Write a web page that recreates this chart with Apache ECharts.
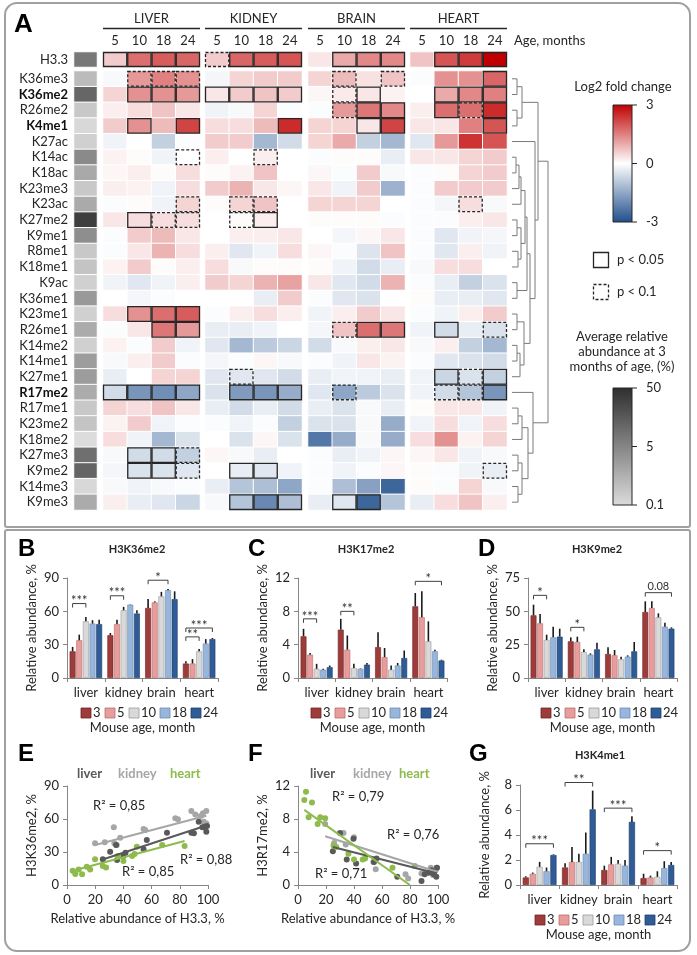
<!DOCTYPE html>
<html>
<head>
<meta charset="utf-8">
<script src="https://cdn.jsdelivr.net/npm/echarts@6.0.0/dist/echarts.min.js"></script>
<style>
  html, body { margin: 0; padding: 0; background: #fff; }
  #chart { width: 697px; height: 955px; }
</style>
</head>
<body>
<div id="chart"></div>
<script>
var FONT = 'Lato';

// ---- panel A data ----
var tissues = ['LIVER', 'KIDNEY', 'BRAIN', 'HEART'];
var ages = ['5', '10', '18', '24'];
var marks = ['K36me3','K36me2','R26me2','K4me1','K27ac','K14ac','K18ac','K23me3','K23ac','K27me2',
  'K9me1','R8me1','K18me1','K9ac','K36me1','K23me1','R26me1','K14me2','K14me1','K27me1',
  'R17me2','R17me1','K23me2','K18me2','K27me3','K9me2','K14me3','K9me3'];
var boldMarks = ['K36me2', 'K4me1', 'R17me2'];

// log2 fold change vs 3 months, columns: liver 5..24 | kidney | brain | heart
var h33Fold = [0.6,1.7,1.9,1.8, 0.6,1.8,1.9,2.0, 0.3,1.0,1.4,1.4, 0.7,2.0,2.3,3.0];
var h33Sig  = [1,1,1,1, 2,1,1,1, 0,1,1,1, 0,1,1,1];
var h33Abundance = 7;

var foldChange = [
  [-0.1,1.2,1.5,1.3, -0.15,0.5,0.6,0.6, 0.5,0.8,0.35,0.7, -0.05,1.3,1.3,1.8],
  [0.5,1.3,1.3,1.2, 0.3,0.6,0.7,0.6, 0.1,0.25,0.3,0.15, 0.0,1.0,1.4,1.5],
  [0.2,0.4,0.7,0.3, -0.2,-0.1,0.5,-0.05, -0.05,1.2,1.6,1.4, 0.2,1.7,1.7,2.5],
  [0.6,1.3,0.8,2.2, 0.4,0.4,0.8,2.5, 0.5,0.5,0.3,2.2, 0.3,0.3,1.5,2.0],
  [-0.2,0.0,-0.8,-0.05, 0.6,0.6,-1.2,-0.6, 0.5,1.0,-0.8,-1.2, -0.4,1.2,2.4,2.0],
  [0.15,0.05,-0.2,0.0, 0.2,0.0,0.2,0.0, -0.05,0.05,0.05,-0.3, 0.3,0.3,0.5,0.6],
  [0.1,0.2,0.05,0.4, 0.05,0.15,0.7,0.0, 0.1,-0.05,0.6,-0.1, -0.05,0.05,0.5,0.6],
  [0.2,0.15,-0.2,0.4, 0.6,0.9,0.3,0.1, 0.3,-0.2,0.6,-1.3, -0.05,0.6,0.6,0.6],
  [-0.05,0.05,-0.2,0.5, 0.05,0.5,0.7,0.0, 0.5,0.5,0.5,0.0, -0.05,-0.15,0.4,-0.1],
  [0.3,0.4,0.4,0.4, 0.0,0.05,0.2,0.0, 0.05,0.05,0.05,-0.05, -0.05,-0.05,0.2,0.3],
  [-0.05,0.6,0.8,0.3, 0.0,0.2,0.2,0.3, 0.0,-0.15,0.1,0.3, -0.05,-0.4,-0.2,-0.15],
  [-0.05,0.3,0.9,0.4, 0.2,-0.4,-0.2,0.4, 0.1,-0.05,-0.45,0.7, -0.05,-0.4,0.2,-0.2],
  [0.15,0.6,0.05,0.2, 0.4,-0.1,0.05,0.05, 0.05,-0.2,-0.6,-0.3, -0.1,0.4,0.4,0.0],
  [-0.2,-0.4,-0.2,0.2, 0.6,0.5,0.9,1.1, 0.3,-0.4,-0.6,0.9, -0.05,-0.3,-0.8,-0.5],
  [0.0,-0.15,-0.05,0.0, 0.0,0.0,-0.3,0.6, -0.05,-0.4,-0.5,0.0, 0.05,-0.3,-0.3,-0.4],
  [0.4,1.3,1.7,1.9, -0.05,0.2,0.4,0.2, -0.2,0.2,0.6,0.3, -0.05,-0.2,0.2,0.6],
  [-0.05,0.3,1.6,1.2, -0.3,-0.3,-0.2,0.0, -0.15,0.7,1.7,1.6, -0.2,-0.6,-0.3,-0.5],
  [0.15,-0.05,0.6,-0.2, -0.4,-1.2,-0.9,-0.7, -0.6,-0.1,0.2,0.3, -0.1,0.2,-0.8,-1.2],
  [-0.1,0.2,0.6,-0.05, -0.15,-0.05,0.1,-0.1, -0.05,-0.2,0.3,0.15, -0.05,-0.4,-0.5,-0.6],
  [-0.3,0.0,0.5,0.5, -0.4,-0.4,-0.4,-0.6, -0.3,-0.2,-0.2,-0.3, -0.2,-0.7,-0.5,-0.8],
  [-0.6,-1.8,-1.9,-1.5, -0.5,-1.7,-1.8,-1.4, -0.4,-1.5,-0.9,-0.5, -0.2,-0.6,-1.0,-1.8],
  [0.5,0.4,0.7,0.3, -0.3,-0.6,-0.3,-0.6, -0.3,-0.5,-0.1,-0.3, 0.05,0.3,0.3,-0.2],
  [0.15,0.6,-0.2,-0.05, -0.05,-0.2,-0.05,-0.8, -0.5,-0.5,-0.1,-1.4, -0.2,0.4,-0.2,0.4],
  [0.4,-0.2,-1.2,-0.5, 0.0,-0.5,0.1,-0.5, -2.3,-1.4,-0.1,-1.4, 0.4,1.3,0.15,0.5],
  [-0.1,-0.6,-0.6,-0.8, 0.1,-0.1,-0.3,0.0, -0.05,-0.3,-0.2,0.1, 0.1,0.3,-0.2,-0.1],
  [-0.15,-0.5,-0.5,-0.4, 0.0,-0.3,-0.4,-0.2, -0.05,-0.2,-0.05,0.1, 0.05,-0.05,-0.2,-0.3],
  [-0.1,-0.2,-0.1,-0.05, -0.3,-1.0,-1.1,-1.5, -0.05,-1.1,-1.6,-2.6, 0.05,-0.05,0.5,-0.1],
  [0.2,-0.3,-0.4,-0.7, -0.1,-1.0,-2.0,-1.1, -0.3,-0.4,-2.6,-1.0, -0.3,0.4,0.7,0.2]
];
// 1 = p < 0.05, 2 = p < 0.1
var foldSig = [
  [0,2,2,2, 0,0,0,0, 0,2,0,2, 0,0,0,1],
  [0,1,1,1, 1,1,1,1, 0,2,1,0, 0,1,1,1],
  [0,0,0,0, 0,0,0,0, 0,2,1,1, 0,1,2,1],
  [0,1,0,1, 0,0,0,1, 0,0,1,1, 0,0,0,1],
  [0,0,0,0, 0,0,0,0, 0,0,0,0, 0,0,0,0],
  [0,0,0,2, 0,0,2,0, 0,0,0,0, 0,0,0,0],
  [0,0,0,0, 0,0,0,0, 0,0,0,0, 0,0,0,0],
  [0,0,0,0, 0,0,0,0, 0,0,0,0, 0,0,0,0],
  [0,0,0,2, 0,2,2,0, 0,0,0,0, 0,0,2,0],
  [0,1,2,2, 0,2,1,0, 0,0,0,0, 0,0,0,0],
  [0,0,0,0, 0,0,0,0, 0,0,0,0, 0,0,0,0],
  [0,0,0,0, 0,0,0,0, 0,0,0,0, 0,0,0,0],
  [0,0,0,0, 0,0,0,0, 0,0,0,0, 0,0,0,0],
  [0,0,0,0, 0,0,0,0, 0,0,0,0, 0,0,0,0],
  [0,0,0,0, 0,0,0,0, 0,0,0,0, 0,0,0,0],
  [0,1,1,1, 0,0,0,0, 0,0,0,0, 0,0,0,0],
  [0,0,1,1, 0,0,0,0, 0,2,1,1, 0,1,0,2],
  [0,0,0,0, 0,0,0,0, 0,0,0,0, 0,0,0,0],
  [0,0,0,0, 0,0,0,0, 0,0,0,0, 0,0,0,0],
  [0,0,0,0, 0,2,0,0, 0,0,0,0, 0,1,2,1],
  [1,1,1,1, 0,1,1,1, 0,2,0,0, 0,2,2,1],
  [0,0,0,0, 0,0,0,0, 0,0,0,0, 0,0,0,0],
  [0,0,0,0, 0,0,0,0, 0,0,0,0, 0,0,0,0],
  [0,0,0,0, 0,0,0,0, 0,0,0,0, 0,0,0,0],
  [0,1,1,2, 0,0,0,0, 0,0,0,0, 0,0,0,0],
  [0,1,1,2, 0,1,1,0, 0,0,0,0, 0,0,0,2],
  [0,0,0,0, 0,0,0,0, 0,0,0,0, 0,0,0,0],
  [0,0,0,0, 0,1,1,1, 0,1,1,0, 0,0,0,0]
];
// average relative abundance at 3 months, %
var abundance3m = [0.45,11.5,0.25,0.12,0.17,4,1.0,0.25,0.95,33,3.3,0.25,0.3,0.17,2,0.17,0.9,0.17,1.7,1.8,
  0.85,0.25,0.3,0.1,9,12,0.12,0.9];

// dendrogram: [left, right, merge distance]; leaves are row indexes
var dendroTree = [
  [[[0,1,5],[2,3,5],10], [4, [[[[[[5,6,4],7,7],8,9], [[9,10,5],[11,12,6],9], 13], [13,14,5], 15],
    [[15,16,5], [[17,18,5],19,8], 12], 18], 23], 26],
  [20, [[[21,22,6],23,10], [[24,25,6],[26,27,6],10], 16], 21],
  36
];

// ---- bar panels B, C, D, G (rows = age group, cols = tissue) ----
var barTissues = ['liver', 'kidney', 'brain', 'heart'];
var barAges = ['3', '5', '10', '18', '24'];
var ageColors = ['#9e3b3b', '#e89c9b', '#d9d9d9', '#98b6dc', '#2f5b96'];
var ageBorders = ['#6e2525', '#b86f6f', '#9a9a9a', '#6a8ab4', '#1f3f6a'];

var k36me2Mean = [[24,38.5,63,13],[34,48.5,68,13],[51,61,73.5,24],[49,66,79,31],[48.5,58,71,35]];
var k36me2Err  = [[4,2,8,2],[5,4,1,4],[4,3,4,2],[3,0.3,1,4],[4,3,7,1]];
var k36me2Sig  = [[0,0,2,67,'***'],[1,0,2,74,'***'],[2,0,3,88,'*'],[3,0,2,37,'**'],[3,0,4,45,'***']];

var r17me2Mean = [[5.0,5.8,3.7,8.6],[2.8,3.4,2.5,7.3],[1.1,1.2,1.0,4.4],[1.0,1.1,1.5,3.2],[1.3,1.6,2.4,2.1]];
var r17me2Err  = [[0.9,1.3,1.8,1.6],[0.2,1.7,1.1,3.1],[0.6,0.5,0.5,2.4],[0.1,0.05,0.3,0.2],[0.2,0.2,0.9,0.1]];
var r17me2Sig  = [[0,0,2,7.1,'***'],[1,0,2,8.0,'**'],[3,0,4,11.6,'*']];

var k9me2Mean = [[47,27.5,18,49.5],[41,27,17,52.5],[28.5,19.5,14,45.5],[30.5,17.5,16,38.5],[31,21.5,20,37]];
var k9me2Err  = [[8,3,5,8],[7,4,4,5],[4,2,2,3],[8,1,1,3],[6,5,7,1]];
var k9me2Sig  = [[0,0,2,62,'*'],[1,0,2,38,'*'],[3,0,4,64,'0.08']];

var k4me1Mean = [[0.6,1.4,1.2,0.55],[0.9,1.85,1.65,0.6],[1.45,1.85,1.7,0.65],[1.1,2.5,1.55,1.35],[2.4,6.05,5.05,1.6]];
var k4me1Err  = [[0.1,0.35,0.35,0.35],[0.1,1.2,0.6,0.15],[0.4,0.65,0.3,0.45],[0.3,1.7,0.45,0.55],[0.05,1.5,0.45,0.25]];
var k4me1Sig  = [[0,0,4,3.3,'***'],[1,0,4,8.2,'**'],[2,0,4,6.15,'***'],[3,0,4,2.75,'*']];

// ---- scatter panels E, F (x = H3.3 %, y = mark %) ----
var scatterNames = ['liver', 'kidney', 'heart'];
var scatterColors = ['#595959', '#a6a6a6', '#8dbb4c'];
var eLiver = [[25.4,23.3],[30.6,30.3],[34.8,36.4],[35.5,22.7],[40,26.4],[41.5,29.4],[54.3,32.4],[56.6,40.9],
  [70.9,47.6],[88.2,47.6],[90,47],[93.4,57.6],[96,52.4],[97.6,53],[98.8,48.5],[99.3,53.6]];
var eKidney = [[19.9,37.9],[26.8,38.8],[33.2,52.4],[33.6,37.9],[35.3,36.4],[37.7,43],[54.3,50.9],[55.5,50],
  [76.8,60.6],[78.7,59.7],[88.2,67.3],[91,64.2],[94.8,62.7],[96.4,65.2],[98.8,67.3],[98.8,56],[97,57.6]];
var eHeart = [[4,13],[5.9,10],[8.3,14.2],[10.7,9.7],[14,16.7],[16.4,14.2],[19.9,23.3],[25.4,17.3],[27.7,15.8],
  [36,26.4],[40,21.8],[46.2,26.4],[47.9,28.2],[49.5,34.8],[67.5,36.4],[83.4,35.5]];
var eFits = [[[24.2,22.7],[100,54.5]], [[20,36.4],[98.8,63]], [[4,13],[83.4,40]]];
var eR2 = ['0,88', '0,85', '0,85'];

var fLiver = [[24.9,4.1],[30,6.3],[34.8,3.1],[39.6,5.6],[41.5,2.6],[54.3,2.8],[56.1,3.2],[70.9,1.0],[88.2,0.5],
  [90.5,1.3],[93.4,1.5],[95.3,1.8],[97,1.3],[98.8,1.0],[99.3,2.1]];
var fKidney = [[19.4,7.4],[25.8,5.1],[32.5,6.3],[34.1,4.9],[40,5.8],[53.8,2.8],[55.5,1.9],[76.8,1.3],[78.7,0.8],
  [88.2,1.4],[91,1.5],[94.8,2.1],[96.4,1.2],[98.3,1.8],[98.8,2.1]];
var fHeart = [[4.5,10.3],[5.7,11.3],[7.6,8.2],[10,10],[14,7.4],[15.9,8.2],[19.4,8.1],[25.4,4.8],[27.3,4.6],
  [36,3.8],[40,3.1],[46.2,3.1],[47.9,3.2],[67.5,2.1],[83.4,2.3]];
var fFits = [[[24.9,4.6],[99.3,1.4]], [[19.4,5.9],[99.3,1.6]], [[4.5,9.1],[79.9,0]]];
var fR2 = ['0,71', '0,76', '0,79'];

// ---------------------------------------------------------------
var option = {
  animation: false,
  backgroundColor: '#fff',
  textStyle: { fontFamily: FONT },
  grid: [], xAxis: [], yAxis: [], series: [], graphic: []
};
var foldSeries = [], graySeries = [];

function addGrid(g, xa, ya) {
  g.outerBoundsMode = 'none';
  option.grid.push(g);
  var i = option.grid.length - 1;
  xa.gridIndex = i; ya.gridIndex = i;
  option.xAxis.push(xa); option.yAxis.push(ya);
  return i;
}
function axisBase(extra) {
  var a = {
    axisLine: { show: true, lineStyle: { color: '#868686' } },
    axisTick: { show: true, length: 4, lineStyle: { color: '#868686' } },
    axisLabel: { fontFamily: FONT, fontSize: 13, color: '#262626', interval: 0 },
    splitLine: { show: false },
    nameMoveOverlap: false,
    nameTextStyle: { fontFamily: FONT, fontSize: 13, color: '#262626' }
  };
  for (var k in extra) a[k] = extra[k];
  return a;
}
function txt(x, y, s, o) {
  o = o || {};
  option.graphic.push({
    type: 'text', x: x, y: y, silent: true, rotation: o.rot || 0,
    style: { text: s, fill: o.color || '#262626', align: o.align || 'left', verticalAlign: 'middle',
      font: (o.weight || 'normal') + ' ' + (o.size || 13) + 'px ' + (o.family || FONT) }
  });
}
function gline(x1, y1, x2, y2, o) {
  o = o || {};
  option.graphic.push({ type: 'line', silent: true, shape: { x1: x1, y1: y1, x2: x2, y2: y2 },
    style: { stroke: o.color || '#262626', lineWidth: o.width || 1, lineDash: o.dash || null } });
}
function grayPos(v) {
  return v <= 5 ? 0.5 * Math.log(v / 0.1) / Math.log(50) : 0.5 + 0.5 * Math.log(v / 5) / Math.log(10);
}
function sigRenderer(params, api) {
  var p = api.coord([api.value(0), api.value(1)]);
  var s = api.size([1, 1]);
  var dashed = api.value(2) === 2;
  return {
    type: 'rect',
    shape: { x: p[0] - s[0] / 2 + 0.5, y: p[1] - s[1] / 2 + 0.5, width: s[0] - 1, height: s[1] - 1 },
    style: { fill: null, stroke: '#262626', lineWidth: 1.3, lineDash: dashed ? [3, 2] : null }
  };
}

// ---- panel A layout ----
var HM_LEFT = [103, 205, 308, 410], HM_W = 97;
var H33_TOP = 52, H33_H = 15, MAIN_TOP = 71, MAIN_H = 439;
var rowLabel = {
  fontFamily: FONT, fontSize: 13, color: '#262626', margin: 6, interval: 0,
  formatter: function (v) { return boldMarks.indexOf(v) >= 0 ? '{b|' + v + '}' : v; },
  rich: { b: { fontFamily: FONT, fontSize: 13, fontWeight: 'bold', color: '#111' } }
};

// gray abundance column
var gi = addGrid({ left: 74, top: H33_TOP, width: 23, height: H33_H },
  { type: 'category', data: ['a'], show: false },
  { type: 'category', data: ['H3.3'], axisLine: { show: false }, axisTick: { show: false }, axisLabel: rowLabel });
option.series.push({ type: 'heatmap', xAxisIndex: gi, yAxisIndex: gi, data: [[0, 0, grayPos(h33Abundance)]],
  itemStyle: { borderColor: '#fff', borderWidth: 1 }, emphasis: { disabled: true } });
graySeries.push(option.series.length - 1);

gi = addGrid({ left: 74, top: MAIN_TOP, width: 23, height: MAIN_H },
  { type: 'category', data: ['a'], show: false },
  { type: 'category', data: marks, inverse: true, axisLine: { show: false }, axisTick: { show: false }, axisLabel: rowLabel });
option.series.push({ type: 'heatmap', xAxisIndex: gi, yAxisIndex: gi,
  data: abundance3m.map(function (v, r) { return [0, r, grayPos(v)]; }),
  itemStyle: { borderColor: '#fff', borderWidth: 1 }, emphasis: { disabled: true } });
graySeries.push(option.series.length - 1);

tissues.forEach(function (t, ti) {
  // H3.3 row with age labels
  var g1 = addGrid({ left: HM_LEFT[ti], top: H33_TOP, width: HM_W, height: H33_H },
    { type: 'category', data: ages, position: 'top', axisLine: { show: false }, axisTick: { show: false },
      axisLabel: { fontFamily: FONT, fontSize: 13, color: '#262626', margin: 5, interval: 0 } },
    { type: 'category', data: ['H3.3'], show: false });
  option.series.push({ type: 'heatmap', xAxisIndex: g1, yAxisIndex: g1,
    data: ages.map(function (a, c) { return [c, 0, h33Fold[ti * 4 + c]]; }),
    itemStyle: { borderColor: '#fff', borderWidth: 1 }, emphasis: { disabled: true } });
  foldSeries.push(option.series.length - 1);
  var s1 = [];
  ages.forEach(function (a, c) { if (h33Sig[ti * 4 + c]) s1.push([c, 0, h33Sig[ti * 4 + c]]); });
  s1.sort(function (a, b) { return b[2] - a[2]; });
  option.series.push({ type: 'custom', xAxisIndex: g1, yAxisIndex: g1, data: s1, renderItem: sigRenderer, silent: true, z: 5 });

  // main block
  var g2 = addGrid({ left: HM_LEFT[ti], top: MAIN_TOP, width: HM_W, height: MAIN_H },
    { type: 'category', data: ages, show: false },
    { type: 'category', data: marks, inverse: true, show: false });
  var d = [], s2 = [];
  foldChange.forEach(function (row, r) {
    for (var c = 0; c < 4; c++) {
      d.push([c, r, row[ti * 4 + c]]);
      var sg = foldSig[r][ti * 4 + c];
      if (sg) s2.push([c, r, sg]);
    }
  });
  s2.sort(function (a, b) { return b[2] - a[2]; });
  option.series.push({ type: 'heatmap', xAxisIndex: g2, yAxisIndex: g2, data: d,
    itemStyle: { borderColor: '#fff', borderWidth: 1 }, emphasis: { disabled: true } });
  foldSeries.push(option.series.length - 1);
  option.series.push({ type: 'custom', xAxisIndex: g2, yAxisIndex: g2, data: s2, renderItem: sigRenderer, silent: true, z: 5 });

  // tissue header
  txt(HM_LEFT[ti] + HM_W / 2, 19, t, { align: 'center', size: 13 });
  gline(HM_LEFT[ti], 28.5, HM_LEFT[ti] + HM_W, 28.5, { width: 1.3 });
});
txt(514, 41, 'Age, months', { size: 13 });

// dendrogram
var dendroSegs = [];
function layoutTree(node) {
  if (typeof node === 'number') return { y: node, h: 0 };
  var a = layoutTree(node[0]), b = layoutTree(node[1]), H = node[2];
  dendroSegs.push([[a.h, a.y], [H, a.y], [H, b.y], [b.h, b.y]]);
  return { y: (a.y + b.y) / 2, h: H };
}
layoutTree(dendroTree);
gi = addGrid({ left: 512, top: MAIN_TOP, width: 38, height: MAIN_H },
  { type: 'value', min: 0, max: 38, show: false },
  { type: 'value', min: -0.5, max: marks.length - 0.5, inverse: true, show: false });
option.series.push({ type: 'lines', coordinateSystem: 'cartesian2d', xAxisIndex: gi, yAxisIndex: gi, polyline: true,
  silent: true, lineStyle: { color: '#7a7a7a', width: 1, opacity: 1 },
  data: dendroSegs.map(function (c) { return { coords: c }; }) });

// legends of panel A
txt(623, 87, 'Log2 fold change', { align: 'center', size: 13 });
option.graphic.push({ type: 'rect', silent: true, shape: { x: 613, y: 105, width: 19, height: 117 },
  style: { stroke: '#262626', lineWidth: 1,
    fill: { type: 'linear', x: 0, y: 0, x2: 0, y2: 1, colorStops: [
      { offset: 0, color: '#c00000' }, { offset: 0.5, color: '#ffffff' }, { offset: 1, color: '#1f4e8c' }] } } });
[[105, '3'], [163.5, '0'], [222, '-3']].forEach(function (t) { gline(632, t[0], 637, t[0]); txt(646, t[0], t[1]); });

option.graphic.push({ type: 'rect', silent: true, shape: { x: 593.5, y: 252.5, width: 15, height: 15 },
  style: { fill: null, stroke: '#262626', lineWidth: 1.3 } });
txt(617, 260, 'p < 0.05');
option.graphic.push({ type: 'rect', silent: true, shape: { x: 593.5, y: 284.5, width: 15, height: 15 },
  style: { fill: null, stroke: '#262626', lineWidth: 1.3, lineDash: [3, 2] } });
txt(617, 292, 'p < 0.1');

txt(622, 337, 'Average relative', { align: 'center' });
txt(622, 352, 'abundance at 3', { align: 'center' });
txt(622, 367, 'months of age, (%)', { align: 'center' });
option.graphic.push({ type: 'rect', silent: true, shape: { x: 613, y: 388, width: 19, height: 117 },
  style: { stroke: '#262626', lineWidth: 1,
    fill: { type: 'linear', x: 0, y: 0, x2: 0, y2: 1, colorStops: [
      { offset: 0, color: '#2e2e2e' }, { offset: 1, color: '#dcdcdc' }] } } });
[[388, '50'], [446.5, '5'], [505, '0.1']].forEach(function (t) { gline(632, t[0], 637, t[0]); txt(646, t[0], t[1]); });

// ---- bar panels ----
var BAR_CAT_GAP = 0.14, BAR_GAP = 0.12;
function barOffset(k) {
  var n = barAges.length;
  var w = (1 - BAR_CAT_GAP) / (n + (n - 1) * BAR_GAP);
  return -(1 - BAR_CAT_GAP) / 2 + k * w * (1 + BAR_GAP) + w / 2;
}
function errRenderer(params, api) {
  var c = api.value(0), k = api.value(1), v = api.value(2), e = api.value(3);
  var p0 = api.coord([c, v]), p1 = api.coord([c, v + e]);
  var x = p0[0] + barOffset(k) * api.size([1, 0])[0];
  return { type: 'line', shape: { x1: x, y1: p0[1], x2: x, y2: p1[1] },
    style: { stroke: '#1a1a1a', lineWidth: 1.6 } };
}
function bracketRenderer(list) {
  return function (params, api) {
    var b = list[params.dataIndex];
    var band = api.size([1, 0])[0];
    var p = api.coord([b[0], b[3]]);
    var x1 = p[0] + barOffset(b[1]) * band, x2 = p[0] + barOffset(b[2]) * band, y = p[1];
    var isNum = b[4].indexOf('*') < 0;
    return { type: 'group', children: [
      { type: 'polyline', shape: { points: [[x1, y + 4], [x1, y], [x2, y], [x2, y + 4]] },
        style: { stroke: '#404040', lineWidth: 1, fill: null } },
      { type: 'text', style: { text: b[4], x: (x1 + x2) / 2, y: isNum ? y - 1 : y + 4, align: 'center',
        verticalAlign: 'bottom', font: (isNum ? 11 : 13) + 'px ' + FONT, fill: '#333' } }
    ] };
  };
}
function barLegend(x, y) {
  var cx = x;
  barAges.forEach(function (a, k) {
    option.graphic.push({ type: 'rect', silent: true, shape: { x: cx, y: y - 5, width: 10, height: 10 },
      style: { fill: ageColors[k], stroke: ageBorders[k], lineWidth: 0.8 } });
    txt(cx + 12, y, a, { size: 13 });
    cx += 12 + (a.length > 1 ? 14 : 7) + 5;
  });
}
function barPanel(g, yMax, yInt, means, errs, sigs, legendX, legendY) {
  var i = addGrid(g,
    axisBase({ type: 'category', data: barTissues, name: 'Mouse age, month', nameLocation: 'middle', nameGap: 43,
      axisTick: { show: true, length: 4, interval: 0, lineStyle: { color: '#868686' } } }),
    axisBase({ type: 'value', min: 0, max: yMax, interval: yInt, name: 'Relative abundance, %',
      nameLocation: 'middle', nameGap: 29 }));
  barAges.forEach(function (a, k) {
    option.series.push({ type: 'bar', name: a, xAxisIndex: i, yAxisIndex: i, data: means[k],
      barGap: (BAR_GAP * 100) + '%', barCategoryGap: (BAR_CAT_GAP * 100) + '%',
      itemStyle: { color: ageColors[k], borderColor: ageBorders[k], borderWidth: 0.6 }, emphasis: { disabled: true } });
  });
  var ed = [];
  means.forEach(function (row, k) { row.forEach(function (v, c) { ed.push([c, k, v, errs[k][c]]); }); });
  option.series.push({ type: 'custom', xAxisIndex: i, yAxisIndex: i, data: ed, renderItem: errRenderer, silent: true, z: 4 });
  option.series.push({ type: 'custom', xAxisIndex: i, yAxisIndex: i, silent: true, z: 4,
    data: sigs.map(function (b) { return [b[0], b[3]]; }), renderItem: bracketRenderer(sigs) });
  barLegend(legendX, legendY);
}
barPanel({ left: 67, top: 578, width: 151, height: 100 }, 90, 30, k36me2Mean, k36me2Err, k36me2Sig, 81, 713);
barPanel({ left: 298, top: 578, width: 149, height: 100 }, 12, 4, r17me2Mean, r17me2Err, r17me2Sig, 311, 713);
barPanel({ left: 528, top: 578, width: 149, height: 100 }, 75, 25, k9me2Mean, k9me2Err, k9me2Sig, 541, 713);
barPanel({ left: 520, top: 785, width: 157, height: 100 }, 8, 2, k4me1Mean, k4me1Err, k4me1Sig, 535, 920);

txt(137, 549, 'H3K36me2', { align: 'center', weight: 'bold', size: 11 });
txt(366, 549, 'H3K17me2', { align: 'center', weight: 'bold', size: 11 });
txt(597, 549, 'H3K9me2', { align: 'center', weight: 'bold', size: 11 });
txt(600, 755, 'H3K4me1', { align: 'center', weight: 'bold', size: 11 });

// ---- scatter panels ----
function scatterPanel(g, yMax, yInt, yName, sets, fits, r2, r2Pos, legendX) {
  var i = addGrid(g,
    axisBase({ type: 'value', min: 0, max: 100, interval: 20, name: 'Relative abundance of H3.3, %',
      nameLocation: 'middle', nameGap: 27 }),
    axisBase({ type: 'value', min: 0, max: yMax, interval: yInt, name: yName, nameLocation: 'middle', nameGap: 29 }));
  [1, 0, 2].forEach(function (s) {
    option.series.push({ type: 'scatter', name: scatterNames[s], xAxisIndex: i, yAxisIndex: i, data: sets[s],
      symbolSize: 6, itemStyle: { color: scatterColors[s], opacity: 1 }, emphasis: { disabled: true } });
  });
  [1, 0, 2].forEach(function (s) {
    option.series.push({ type: 'line', xAxisIndex: i, yAxisIndex: i, data: fits[s], showSymbol: false, silent: true,
      lineStyle: { color: scatterColors[s], width: 2 }, z: 3 });
  });
  r2.forEach(function (v, s) { txt(r2Pos[s][0], r2Pos[s][1], 'R² = ' + v); });
  scatterNames.forEach(function (n, s) { txt(legendX[s], 774, n, { weight: 'bold', color: scatterColors[s], size: 13 }); });
}
scatterPanel({ left: 67, top: 786, width: 141, height: 99 }, 90, 30, 'H3K36me2, %',
  [eLiver, eKidney, eHeart], eFits, eR2, [[180, 860], [93, 806], [122, 872]], [77, 118, 170]);
scatterPanel({ left: 298, top: 786, width: 140, height: 99 }, 12, 4, 'H3R17me2, %',
  [fLiver, fKidney, fHeart], fFits, fR2, [[315, 874], [387, 835], [332, 797]], [310, 353, 399]);

// ---- frames and panel letters ----
option.graphic.push({ type: 'rect', silent: true, z: -10, shape: { x: 5, y: 3, width: 685, height: 524, r: [12, 12, 2, 2] },
  style: { fill: null, stroke: '#a0a0a0', lineWidth: 2 } });
option.graphic.push({ type: 'rect', silent: true, z: -10, shape: { x: 5, y: 530, width: 685, height: 421, r: [2, 2, 12, 12] },
  style: { fill: null, stroke: '#a0a0a0', lineWidth: 2 } });
var LF = 'Liberation Sans';
txt(14, 25, 'A', { weight: 'bold', size: 26, family: LF, color: '#000' });
txt(18, 549, 'B', { weight: 'bold', size: 24, family: LF, color: '#000' });
txt(248, 549, 'C', { weight: 'bold', size: 24, family: LF, color: '#000' });
txt(478, 549, 'D', { weight: 'bold', size: 24, family: LF, color: '#000' });
txt(18, 754, 'E', { weight: 'bold', size: 24, family: LF, color: '#000' });
txt(248, 754, 'F', { weight: 'bold', size: 24, family: LF, color: '#000' });
txt(469, 754, 'G', { weight: 'bold', size: 24, family: LF, color: '#000' });

option.visualMap = [
  { type: 'continuous', show: false, min: -3, max: 3, seriesIndex: foldSeries,
    inRange: { color: ['#1f4e8c', '#ffffff', '#c00000'] } },
  { type: 'continuous', show: false, min: 0, max: 1, seriesIndex: graySeries,
    inRange: { color: ['#dcdcdc', '#2e2e2e'] } }
];

var chart = echarts.init(document.getElementById('chart'), null, { renderer: 'canvas' });
chart.setOption(option);
</script>
</body>
</html>
